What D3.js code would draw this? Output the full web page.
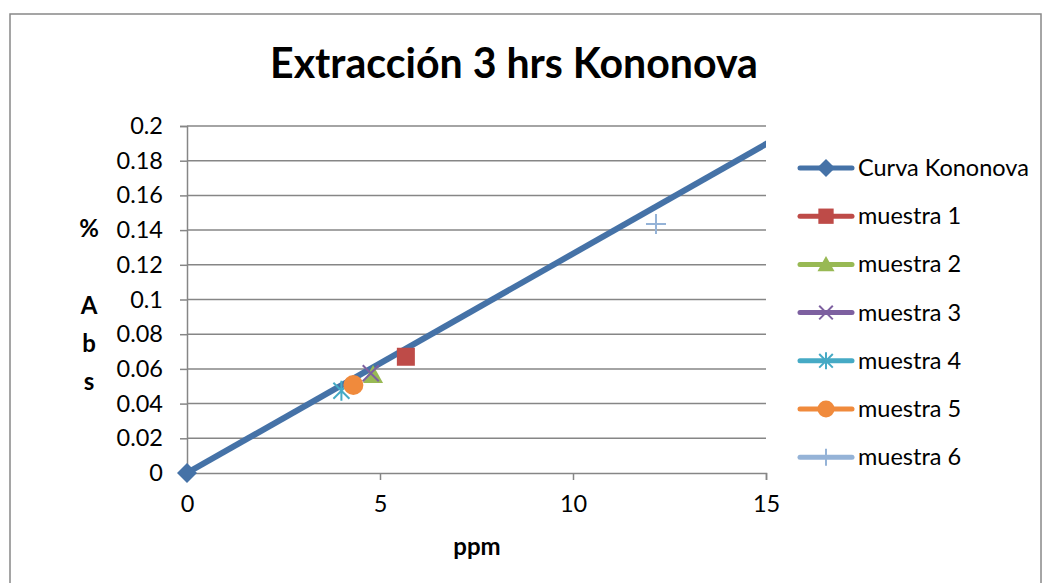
<!DOCTYPE html>
<html><head><meta charset="utf-8">
<script src="https://cdn.jsdelivr.net/npm/d3@7"></script>
<style>body{margin:0;background:#fff}svg{display:block}text{font-family:Lato,"Open Sans",sans-serif}</style>
</head><body>
<svg id="c" width="1043" height="583"></svg>
<script>
const title = "Extracción 3 hrs Kononova";
const xTitle = "ppm";
const yTitleLines = ["%", " ", "A", "b", "s"];
const xTicks = [0, 5, 10, 15];
const yTicks = [0, 0.02, 0.04, 0.06, 0.08, 0.1, 0.12, 0.14, 0.16, 0.18, 0.2];
const curveX = [0, 20];
const curveY = [0, 0.2528];
const seriesNames = ["Curva Kononova","muestra 1","muestra 2","muestra 3","muestra 4","muestra 5","muestra 6"];
const seriesColors = ["#4572A7","#BE4B48","#98B954","#7D60A0","#46AAC5","#F08A3C","#95B3D7"];
const seriesSymbols = ["diamond","square","triangle","x","asterisk","circle","plus"];
const sampleX = [5.67, 4.82, 4.76, 4.0, 4.31, 12.15];
const sampleY = [0.067, 0.0565, 0.0575, 0.0474, 0.0507, 0.1435];

const svg = d3.select("#c");
const m = {l:187, r:766, t:126, b:473};
const x = d3.scaleLinear().domain([0,15]).range([m.l, m.r]);
const y = d3.scaleLinear().domain([0,0.2]).range([m.b, m.t]);

// outer border
svg.append("rect").attr("x",10).attr("y",14).attr("width",1031).attr("height",600)
  .attr("fill","#fff").attr("stroke","#888").attr("stroke-width",1.5);

// title
const tt = svg.append("text").attr("x",(270+758)/2).attr("y",78).attr("text-anchor","middle")
  .attr("font-weight","bold").attr("font-size",42).attr("fill","#000").text(title);
const tw = tt.node().getComputedTextLength();
tt.attr("font-size", 42*488/tw);

// gridlines
svg.append("g").selectAll("line").data(yTicks.filter(d=>d>0)).join("line")
  .attr("x1",m.l).attr("x2",m.r).attr("y1",d=>y(d)).attr("y2",d=>y(d))
  .attr("stroke","#868686").attr("stroke-width",1.5);

// axes
const gy = svg.append("g").attr("transform",`translate(${m.l},0)`)
  .call(d3.axisLeft(y).tickValues(yTicks).tickFormat(d=>d3.format("")(+d.toFixed(2))).tickSize(7).tickPadding(17));
const gx = svg.append("g").attr("transform",`translate(0,${m.b})`)
  .call(d3.axisBottom(x).tickValues(xTicks).tickSize(7).tickPadding(15));
[gx,gy].forEach(g=>{
  g.select(".domain").attr("stroke","#868686").attr("stroke-width",1.5);
  g.selectAll(".tick line").attr("stroke","#868686").attr("stroke-width",1.5);
  g.selectAll(".tick text").attr("font-size",23.5).attr("fill","#000").attr("font-family","Lato,sans-serif");
});

// axis titles
svg.append("text").attr("x",477).attr("y",555).attr("text-anchor","middle")
  .attr("font-weight","bold").attr("font-size",24).text(xTitle);
svg.append("g").selectAll("text").data(yTitleLines).join("text")
  .attr("x",89).attr("y",(d,i)=>237+i*38.3).attr("text-anchor","middle")
  .attr("font-weight","bold").attr("font-size",24).text(d=>d);

// symbol drawer
function drawSymbol(g, type, cx, cy, size, color){
  const s = size/2;
  if(type==="diamond"){
    g.append("path").attr("d",`M${cx},${cy-s}L${cx+s},${cy}L${cx},${cy+s}L${cx-s},${cy}Z`).attr("fill",color);
  } else if(type==="square"){
    g.append("rect").attr("x",cx-s*0.9).attr("y",cy-s*0.9).attr("width",s*1.8).attr("height",s*1.8).attr("fill",color);
  } else if(type==="triangle"){
    g.append("path").attr("d",`M${cx},${cy-s}L${cx+s},${cy+s*0.8}L${cx-s},${cy+s*0.8}Z`).attr("fill",color);
  } else if(type==="circle"){
    g.append("circle").attr("cx",cx).attr("cy",cy).attr("r",s).attr("fill",color);
  } else if(type==="x"){
    const k=s*0.8;
    g.append("path").attr("d",`M${cx-k},${cy-k}L${cx+k},${cy+k}M${cx-k},${cy+k}L${cx+k},${cy-k}`).attr("stroke",color).attr("stroke-width",2);
  } else if(type==="asterisk"){
    const k=s*0.8;
    g.append("path").attr("d",`M${cx-k},${cy-k}L${cx+k},${cy+k}M${cx-k},${cy+k}L${cx+k},${cy-k}M${cx},${cy-s}L${cx},${cy+s}`).attr("stroke",color).attr("stroke-width",2);
  } else if(type==="plus"){
    g.append("path").attr("d",`M${cx-s},${cy}L${cx+s},${cy}M${cx},${cy-s}L${cx},${cy+s}`).attr("stroke",color).attr("stroke-width",2);
  }
}

// curve (clipped to plot area)
svg.append("clipPath").attr("id","pc").append("rect")
  .attr("x",m.l).attr("y",m.t-10).attr("width",m.r-m.l).attr("height",m.b-m.t+20);
const line = d3.line().x(d=>x(d[0])).y(d=>y(d[1]));
svg.append("path").datum(curveX.map((v,i)=>[v,curveY[i]])).attr("clip-path","url(#pc)")
  .attr("d",line).attr("fill","none").attr("stroke",seriesColors[0]).attr("stroke-width",6);
const mg = svg.append("g");
curveX.forEach((v,i)=>{ if(v>=0 && v<=15) drawSymbol(mg, seriesSymbols[0], x(v), y(curveY[i]), 20, seriesColors[0]); });

// samples
sampleX.forEach((v,i)=>drawSymbol(mg, seriesSymbols[i+1], x(v), y(sampleY[i]), 20, seriesColors[i+1]));

// legend
const lg = svg.append("g");
seriesNames.forEach((n,i)=>{
  const ly = 168 + i*48.2;
  lg.append("line").attr("x1",800).attr("x2",852).attr("y1",ly).attr("y2",ly)
    .attr("stroke",seriesColors[i]).attr("stroke-width",5).attr("stroke-linecap","round");
  drawSymbol(lg, seriesSymbols[i], 826, ly, i===0?18:17, seriesColors[i]);
  lg.append("text").attr("x",858).attr("y",ly+8).attr("font-size",23.5).attr("fill","#000").text(n);
});
</script>
</body></html>
